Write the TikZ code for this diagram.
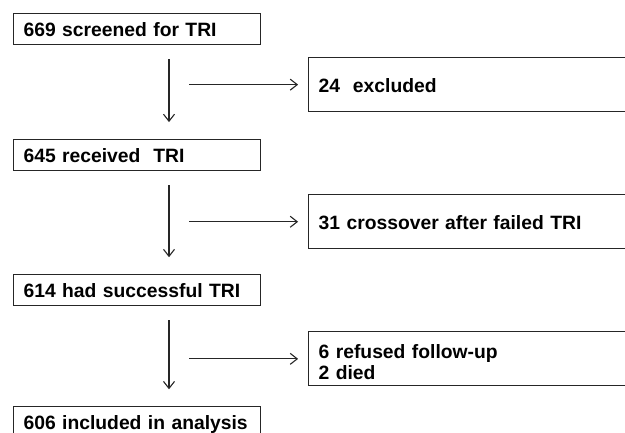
\documentclass[tikz,border=0pt]{standalone}
\usepackage{fontspec}
\newfontfamily\flowfont{Liberation Sans}
\usepackage{tikz}
\usetikzlibrary{arrows.meta, positioning}
\tikzset{
    base/.style={draw=black!85, line width=1.1pt, font=\flowfont\fontsize{19.3}{20.5}\selectfont\bfseries, align=left, inner xsep=10pt, inner ysep=0pt},
    stage/.style={base, rectangle, text width=227pt, minimum height=31pt, text height=16pt, text depth=2pt},
    exclusion/.style={base, rectangle, text width=330pt, minimum height=54pt, text height=17pt, text depth=1pt},
    line/.style={draw=black!85, line width=1.1pt, -{Straight Barb[length=7pt, width=11pt]}},
    down-line/.style={line, shorten <=14pt, shorten >=17pt},
    side-line/.style={line, shorten <=20pt, shorten >=10pt}
}
\begin{document}
\begin{tikzpicture}
    \useasboundingbox (0,0) rectangle (625pt,-432pt);
    \clip (0,0) rectangle (625pt,-432pt);
    \node [stage, anchor=north west] (Screened) at (13pt,-13pt) {669 screened for TRI};
    \node [stage, below=94pt of Screened] (Received) {645 received~~TRI};
    \node [stage, below=103pt of Received] (Successful) {614 had successful TRI};
    \node [stage, below=100pt of Successful] (Analysed) {606 included in analysis};
    \node [exclusion, below right=12pt and 47pt of Screened.south east] (Excluded) {24~~excluded};
    \node [exclusion, below right=23pt and 47pt of Received.south east] (Crossover) {31 crossover after failed TRI};
    \node [exclusion, below right=25pt and 47pt of Successful.south east, text height=10pt, text depth=10pt] (Lost) {6 refused follow-up\\2 died};
    \coordinate (Spine) at (169pt,0);

    \path [down-line] (Screened.south -| Spine) -- (Received.north -| Spine);
    \path [down-line] (Received.south -| Spine) -- (Successful.north -| Spine);
    \path [down-line] (Successful.south -| Spine) -- (Analysed.north -| Spine);
    \path [side-line] (Spine |- Excluded.west) -- (Excluded.west);
    \path [side-line] (Spine |- Crossover.west) -- (Crossover.west);
    \path [side-line] (Spine |- Lost.west) -- (Lost.west);
\end{tikzpicture}
\end{document}
